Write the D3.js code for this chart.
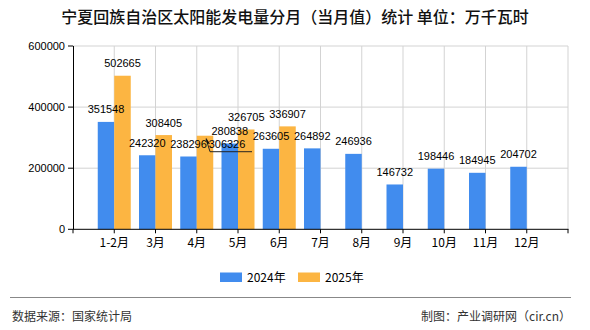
<!DOCTYPE html>
<html><head><meta charset="utf-8">
<script src="https://cdn.jsdelivr.net/npm/d3@7"></script>
<style>body{margin:0;background:#fff}svg{display:block}text{font-family:"Liberation Sans","Noto Sans CJK SC",sans-serif}</style>
</head><body><svg id="c" width="590" height="330"></svg>
<script>
const categories = ["1-2月","3月","4月","5月","6月","7月","8月","9月","10月","11月","12月"];
const values2024 = [351548,242320,238296,280838,263605,264892,246936,146732,198446,184945,204702];
const values2025 = [502665,308405,306326,326705,336907,null,null,null,null,null,null];
const yTicks = [0,200000,400000,600000];
const seriesNames = ["2024年","2025年"];
const colors = ["#418CEE","#FCB542"];
const title = "宁夏回族自治区太阳能发电量分月（当月值）统计 单位：万千瓦时";

const svg = d3.select("#c");
const pL = 73, pR = 568, pT = 46, pB = 229.3;
const step = (pR-pL)/(categories.length+1);
const x = d3.scalePoint().domain(categories).range([pL+step, pR-step]);
const y = d3.scaleLinear().domain([0,600000]).range([pB, pT]);
const bw = 16.5;

// title
svg.append("text").attr("x",295).attr("y",22.5).attr("text-anchor","middle")
  .style("font-family","'Noto Sans CJK SC'").style("font-size","16px").style("font-weight","500").attr("fill","#111").text(title);

// grid
const g = svg.append("g");
g.selectAll(".hg").data(yTicks.filter(d=>d>0)).join("line")
  .attr("x1",pL).attr("x2",pR).attr("y1",d=>y(d)).attr("y2",d=>y(d))
  .attr("stroke","#d3d3d3").attr("stroke-width",1);
const vpos = categories.map(c=>x(c)).concat([pR]);
g.selectAll(".vg").data(vpos).join("line")
  .attr("x1",d=>d).attr("x2",d=>d).attr("y1",pT).attr("y2",pB)
  .attr("stroke","#d3d3d3").attr("stroke-width",1);

// bars
const bars = svg.append("g");
categories.forEach((c,i)=>{
  bars.append("rect").attr("x",x(c)-bw).attr("y",y(values2024[i])).attr("width",bw)
    .attr("height",pB-y(values2024[i])).attr("fill",colors[0]);
  if(values2025[i]!=null){
    bars.append("rect").attr("x",x(c)).attr("y",y(values2025[i])).attr("width",bw)
      .attr("height",pB-y(values2025[i])).attr("fill",colors[1]);
  }
});

// axes
const ax = svg.append("g").attr("stroke","#000").attr("stroke-width",1);
ax.append("line").attr("x1",pL+0.5).attr("x2",pL+0.5).attr("y1",pT).attr("y2",pB);
ax.append("line").attr("x1",pL).attr("x2",pR+0.5).attr("y1",pB).attr("y2",pB);
yTicks.forEach(t=>{
  ax.append("line").attr("x1",pL-5).attr("x2",pL).attr("y1",y(t)).attr("y2",y(t));
});
[pL].concat(vpos).forEach(p=>{
  ax.append("line").attr("x1",p).attr("x2",p).attr("y1",pB).attr("y2",pB+4);
});
svg.append("g").selectAll("text").data(yTicks).join("text")
  .attr("x",65).attr("y",d=>y(d)+4).attr("text-anchor","end")
  .style("font-size","11px").attr("fill","#000").text(d=>d);
svg.append("g").selectAll("text").data(categories).join("text")
  .attr("x",d=>x(d)).attr("y",246.5).attr("text-anchor","middle")
  .style("font-size","12px").style("font-family","'Noto Sans CJK SC'").attr("fill","#000").text(d=>d);

// value labels
const lab = svg.append("g").style("font-size","11px").attr("fill","#000");
categories.forEach((c,i)=>{
  lab.append("text").attr("x",x(c)-bw/2).attr("y",y(values2024[i])-8.5)
    .attr("text-anchor","middle").text(values2024[i]);
  if(values2025[i]!=null){
    if(c==="4月"){
      const tx = x(c)+bw/2, ty = y(values2025[i]);
      lab.append("text").attr("x",tx+22).attr("y",ty+12).attr("text-anchor","middle").text(values2025[i]);
      svg.append("path").attr("d",`M${tx+1},${ty+3}L${tx+5},${ty+16}L${tx+47},${ty+16}`)
        .attr("fill","none").attr("stroke","#222").attr("stroke-width",1);
      svg.append("path").attr("d",`M${tx+1},${ty+2}L${tx+5},${ty+8}L${tx+2},${ty+8}Z`).attr("fill","#111");
    } else {
      lab.append("text").attr("x",x(c)+bw/2).attr("y",y(values2025[i])-8.5)
        .attr("text-anchor","middle").text(values2025[i]);
    }
  }
});

// legend
const lg = svg.append("g");
const lx = [220,298];
seriesNames.forEach((s,i)=>{
  lg.append("rect").attr("x",lx[i]).attr("y",272.5).attr("width",22).attr("height",9.5).attr("fill",colors[i]);
  lg.append("text").attr("x",lx[i]+27).attr("y",281.5).style("font-size","12px")
    .style("font-family","'Noto Sans CJK SC'").attr("fill","#000").text(s);
});

// footer
svg.append("line").attr("x1",10).attr("x2",571).attr("y1",297.5).attr("y2",297.5).attr("stroke","#888").attr("stroke-width",1.2);
svg.append("text").attr("x",12).attr("y",321).style("font-size","12px").style("font-family","'Noto Sans CJK SC'")
  .attr("fill","#333").text("数据来源：国家统计局");
svg.append("text").attr("x",571).attr("y",321).attr("text-anchor","end").style("font-size","12px").style("font-family","'Noto Sans CJK SC'")
  .attr("fill","#333").text("制图：产业调研网（cir.cn）");
</script></body></html>
